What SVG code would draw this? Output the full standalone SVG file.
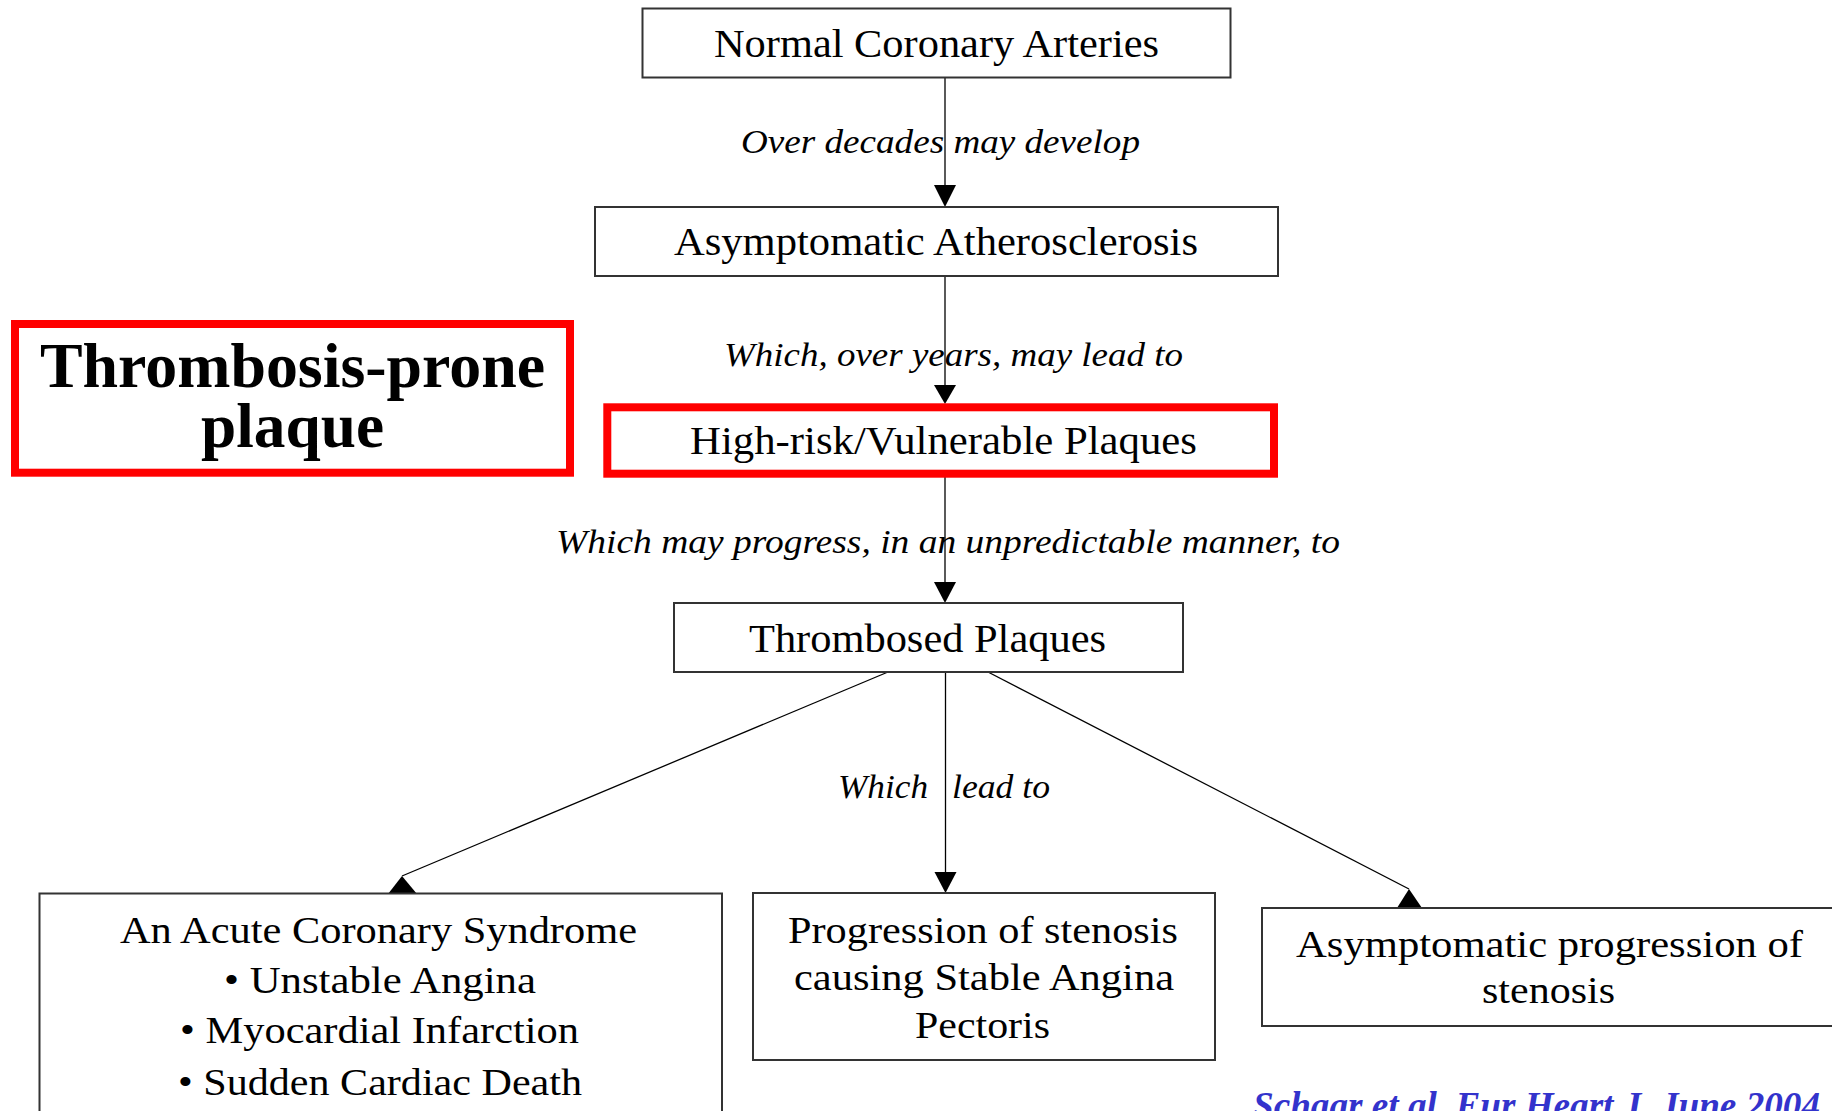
<svg xmlns="http://www.w3.org/2000/svg" width="1832" height="1111" viewBox="0 0 1832 1111">
<style>
.box{fill:#fff;stroke:#333;stroke-width:2}
.red{fill:none;stroke:#ff0000;stroke-width:8}
.t{font-family:"Liberation Serif","Times New Roman",serif;font-size:39px;fill:#000}
.b{font-family:"Liberation Serif","Times New Roman",serif;font-size:37px;fill:#000}
.lab{font-family:"Liberation Serif","Times New Roman",serif;font-size:33px;font-style:italic;fill:#000}
.big{font-family:"Liberation Serif","Times New Roman",serif;font-size:64px;font-weight:bold;fill:#000}
.cite{font-family:"Liberation Serif","Times New Roman",serif;font-size:37px;font-weight:bold;font-style:italic;fill:#3333cc}
.ln{stroke:#000;stroke-width:1.3;fill:none}
.ah{fill:#000}
</style>
<rect width="1832" height="1111" fill="#fff"/>
<g id="connectors">
  <line class="ln" x1="945" y1="78" x2="945" y2="186"/>
  <polygon class="ah" points="934,185 956,185 945,207"/>
  <line class="ln" x1="945" y1="276" x2="945" y2="386"/>
  <polygon class="ah" points="934,385 956,385 945,404"/>
  <line class="ln" x1="945" y1="477" x2="945" y2="583"/>
  <polygon class="ah" points="934,582 956,582 945,603"/>
  <line class="ln" x1="945.5" y1="672" x2="945.5" y2="873"/>
  <polygon class="ah" points="934.5,872 956.5,872 945.5,893"/>
  <line class="ln" x1="888" y1="672" x2="402" y2="876"/>
  <polygon class="ah" points="402,876 388,894 417,894"/>
  <line class="ln" x1="988" y1="672" x2="1409" y2="889"/>
  <polygon class="ah" points="1409,889 1397,908 1422,908"/>
  <text class="lab" x="741" y="153" textLength="399" lengthAdjust="spacingAndGlyphs">Over decades may develop</text>
  <text class="lab" x="724" y="366" textLength="459" lengthAdjust="spacingAndGlyphs">Which, over years, may lead to</text>
  <text class="lab" x="556" y="553" textLength="784" lengthAdjust="spacingAndGlyphs">Which may progress, in an unpredictable manner, to</text>
  <text class="lab" x="838" y="798" textLength="90" lengthAdjust="spacingAndGlyphs">Which</text>
  <text class="lab" x="952" y="798" textLength="98" lengthAdjust="spacingAndGlyphs">lead to</text>
</g>
<g id="normal">
  <rect class="box" x="642.5" y="8.5" width="588" height="69"/>
  <text class="t" x="714" y="57" textLength="445" lengthAdjust="spacingAndGlyphs">Normal Coronary Arteries</text>
</g>
<g id="asymptomatic-athero">
  <rect class="box" x="595" y="207" width="683" height="69"/>
  <text class="t" x="674" y="255" textLength="524" lengthAdjust="spacingAndGlyphs">Asymptomatic Atherosclerosis</text>
</g>
<g id="high-risk">
  <rect class="box" x="607.3" y="407.3" width="666.7" height="66.4"/>
  <rect class="red" x="607.3" y="407.3" width="666.7" height="66.4"/>
  <text class="t" x="690" y="454" textLength="507" lengthAdjust="spacingAndGlyphs">High-risk/Vulnerable Plaques</text>
</g>
<g id="thrombosis-prone">
  <rect class="red" x="15" y="324" width="555" height="148.7"/>
  <text class="big" x="40" y="387" textLength="505" lengthAdjust="spacingAndGlyphs">Thrombosis-prone</text>
  <text class="big" x="201" y="447" textLength="183" lengthAdjust="spacingAndGlyphs">plaque</text>
</g>
<g id="thrombosed">
  <rect class="box" x="674" y="603" width="509" height="69"/>
  <text class="t" x="749" y="652" textLength="357" lengthAdjust="spacingAndGlyphs">Thrombosed Plaques</text>
</g>
<g id="acute">
  <rect class="box" x="39.5" y="893.5" width="682.5" height="300"/>
  <text class="b" x="120" y="943" textLength="517" lengthAdjust="spacingAndGlyphs">An Acute Coronary Syndrome</text>
  <text class="b" x="224" y="993" textLength="312" lengthAdjust="spacingAndGlyphs">• Unstable Angina</text>
  <text class="b" x="180" y="1043" textLength="399" lengthAdjust="spacingAndGlyphs">• Myocardial Infarction</text>
  <text class="b" x="178" y="1095" textLength="404" lengthAdjust="spacingAndGlyphs">• Sudden Cardiac Death</text>
</g>
<g id="stable">
  <rect class="box" x="753" y="893" width="462" height="167"/>
  <text class="b" x="788" y="943" textLength="390" lengthAdjust="spacingAndGlyphs">Progression of stenosis</text>
  <text class="b" x="794" y="990" textLength="380" lengthAdjust="spacingAndGlyphs">causing Stable Angina</text>
  <text class="b" x="915" y="1038" textLength="135" lengthAdjust="spacingAndGlyphs">Pectoris</text>
</g>
<g id="asymptomatic-prog">
  <rect class="box" x="1262" y="908" width="600" height="118"/>
  <text class="b" x="1296" y="957" textLength="507" lengthAdjust="spacingAndGlyphs">Asymptomatic progression of</text>
  <text class="b" x="1482" y="1003" textLength="133" lengthAdjust="spacingAndGlyphs">stenosis</text>
</g>
<g id="citation">
  <text class="cite" x="1253" y="1118" textLength="567" lengthAdjust="spacingAndGlyphs">Schaar et al. Eur Heart J. June 2004</text>
</g>
</svg>
